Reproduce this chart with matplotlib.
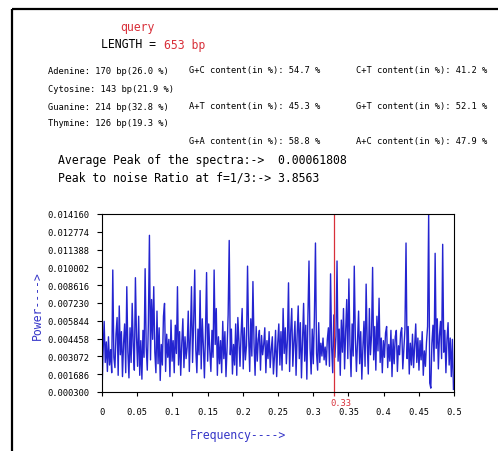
import matplotlib
matplotlib.use("Agg")
import matplotlib.pyplot as plt
from matplotlib.patches import Rectangle
import numpy as np

W, H = 498, 452
SEQ_LEN = 653

# spectrum power (x 1e-3) at f = k / 653, k = 0..326
power_e3 = [
    0.3, 3.4, 5.8, 2.6, 4.2, 1.9, 4.6, 2.4, 3.6, 1.8,
    9.8, 3.0, 2.2, 4.8, 6.1, 1.6, 7.0, 3.2, 5.0, 1.5,
    4.1, 5.6, 1.8, 8.5, 3.4, 1.4, 5.3, 2.6, 7.2, 3.9,
    2.0, 9.2, 4.6, 2.3, 6.2, 1.6, 4.3, 1.3, 5.1, 3.0,
    9.9, 3.8, 2.0, 5.6, 12.5, 2.8, 7.5, 4.4, 8.5, 3.4,
    1.8, 6.6, 2.5, 5.3, 1.2, 4.0, 2.4, 6.2, 7.2, 1.9,
    4.8, 3.0, 4.4, 1.5, 5.9, 2.7, 4.3, 1.8, 5.5, 3.3,
    8.5, 2.4, 5.0, 1.6, 4.1, 6.0, 2.2, 4.6, 2.9, 3.8,
    6.6, 1.9, 4.7, 8.5, 2.6, 5.7, 9.8, 3.6, 1.8, 5.2,
    3.2, 8.2, 2.1, 6.0, 3.9, 1.4, 4.9, 9.6, 2.7, 5.6,
    3.5, 1.9, 5.1, 3.0, 9.8, 4.0, 6.8, 1.6, 4.6, 2.5,
    4.3, 1.8, 5.8, 2.9, 5.0, 1.5, 3.7, 6.3, 12.1, 3.2,
    5.2, 1.7, 4.0, 2.4, 5.6, 1.6, 6.1, 4.3, 2.3, 4.8,
    6.8, 2.1, 5.3, 2.8, 3.9, 10.1, 4.7, 1.9, 6.0, 3.1,
    8.9, 4.1, 1.6, 5.4, 2.7, 4.4, 5.1, 2.0, 4.7, 3.2,
    4.0, 5.3, 1.8, 4.3, 2.9, 5.0, 2.2, 3.6, 4.6, 1.7,
    3.1, 5.1, 1.5, 4.1, 5.6, 2.4, 5.0, 2.0, 6.8, 3.3,
    5.3, 2.5, 4.4, 8.8, 1.9, 5.0, 6.8, 2.3, 4.2, 5.8,
    1.6, 4.7, 7.0, 2.9, 5.7, 1.4, 4.3, 7.2, 2.7, 5.5,
    1.3, 6.2, 10.5, 3.7, 1.7, 5.2, 2.5, 6.1, 11.9, 3.3,
    2.0, 5.7, 2.6, 4.1, 3.1, 4.5, 2.8, 3.8, 2.4, 4.4,
    5.3, 2.3, 9.5, 3.8, 1.8, 6.3, 3.0, 4.6, 10.5, 2.7,
    5.2, 1.6, 5.9, 3.4, 6.8, 2.1, 5.0, 7.5, 2.9, 9.1,
    4.0, 1.5, 5.6, 3.1, 10.1, 4.5, 1.9, 4.2, 6.6, 2.5,
    5.0, 1.3, 3.8, 5.8, 2.3, 8.7, 4.1, 1.7, 6.8, 3.2,
    4.7, 10.0, 2.8, 5.4, 2.0, 6.2, 3.5, 7.6, 2.6, 4.5,
    1.8, 4.3, 3.0, 4.9, 5.4, 2.2, 4.0, 2.7, 5.1, 1.5,
    4.4, 2.5, 4.6, 5.1, 1.9, 3.9, 3.2, 4.9, 5.3, 2.1,
    3.6, 5.2, 11.9, 2.9, 5.4, 1.7, 4.1, 2.4, 4.8, 2.2,
    3.9, 5.6, 2.6, 4.5, 2.0, 4.3, 2.8, 5.0, 1.6, 3.5,
    2.3, 4.2, 5.4, 14.1, 1.0, 0.6, 4.1, 5.5, 2.7, 11.1,
    3.7, 6.0, 2.1, 4.7, 5.8, 2.9, 11.8, 3.4, 5.1, 1.8,
    4.4, 5.7, 2.4, 4.5, 1.5, 4.4, 0.5,
]

y_ticks = [0.000300, 0.001686, 0.003072, 0.004458, 0.005844, 0.007230,
           0.008616, 0.010002, 0.011388, 0.012774, 0.014160]
x_ticks = [0, 0.05, 0.1, 0.15, 0.2, 0.25, 0.3, 0.35, 0.4, 0.45, 0.5]
marker_f = 0.33

base_rows = [
    ("Adenine: 170 bp(26.0 %)", "G+C content(in %): 54.7 %", "C+T content(in %): 41.2 %"),
    ("Cytosine: 143 bp(21.9 %)", "", ""),
    ("Guanine: 214 bp(32.8 %)", "A+T content(in %): 45.3 %", "G+T content(in %): 52.1 %"),
    ("Thymine: 126 bp(19.3 %)", "", ""),
    ("", "G+A content(in %): 58.8 %", "A+C content(in %): 47.9 %"),
]
avg_peak = "0.00061808"
snr = "3.8563"

RED = "#d8303a"
BLUE = "#3535c8"
MONO = "DejaVu Sans Mono"


def px(x, y):
    return x / W, 1 - y / H


fig = plt.figure(figsize=(W / 100, H / 100), dpi=100)

# outer frame (cut off at right and bottom)
fig.patches.append(Rectangle(px(12, 10), 1.0, -1.2, transform=fig.transFigure,
                             fill=False, edgecolor="black", linewidth=1.6))

fig.text(*px(120, 28), "query", color=RED, fontsize=8.3, family=MONO, va="center")
fig.text(*px(101, 45), "LENGTH = ", color="black", fontsize=8.3, family=MONO, va="center")
fig.text(*px(164, 45), "%d bp" % SEQ_LEN, color=RED, fontsize=8.3, family=MONO, va="center")

row_y = [71, 89, 107, 124, 142]
for (a, b, c), yy in zip(base_rows, row_y):
    for s, xx in ((a, 48), (b, 189), (c, 356)):
        if s:
            fig.text(*px(xx, yy), s, fontsize=6.3, family=MONO, va="center")

fig.text(*px(58, 161), "Average Peak of the spectra:->  " + avg_peak,
         fontsize=8.3, family=MONO, va="center")
fig.text(*px(58, 178), "Peak to noise Ratio at f=1/3:-> " + snr,
         fontsize=8.3, family=MONO, va="center")

ax = fig.add_axes([102 / W, 1 - 393 / H, (454 - 102) / W, (393 - 215) / H])

freq = np.arange(len(power_e3)) / SEQ_LEN
power = np.array(power_e3) * 1e-3
ax.plot(freq, power, color="#2424d0", linewidth=1.0)

ax.set_xlim(0, 0.5)
ax.set_ylim(y_ticks[0], y_ticks[-1])
ax.set_yticks(y_ticks)
ax.set_yticklabels(["%.6f" % v for v in y_ticks])
ax.set_xticks(x_ticks)
ax.set_xticklabels(["%g" % v for v in x_ticks])
ax.tick_params(axis="y", length=3.6, width=0.8, pad=5.5, labelsize=6.3)
ax.tick_params(axis="x", length=3, width=0.8, pad=8, labelsize=6.3)
for lab in ax.get_xticklabels() + ax.get_yticklabels():
    lab.set_family(MONO)
for sp in ax.spines.values():
    sp.set_linewidth(0.8)

ax.vlines(marker_f, y_ticks[0] - 0.0003, y_ticks[-1], color=RED, linewidth=0.9, clip_on=False)
ax.annotate("%.2f" % marker_f, xy=(marker_f, y_ticks[0]), xytext=(-3, -4),
            textcoords="offset points", ha="left", va="top", color=RED,
            fontsize=6.3, family=MONO)

fig.text(*px(190, 436), "Frequency---->", color=BLUE, fontsize=8.3, family=MONO, va="center")
fig.text(*px(37, 306), "Power---->", color=BLUE, fontsize=8.3, family=MONO,
         va="center", ha="center", rotation=90)

fig.savefig("out.png", dpi=100)
